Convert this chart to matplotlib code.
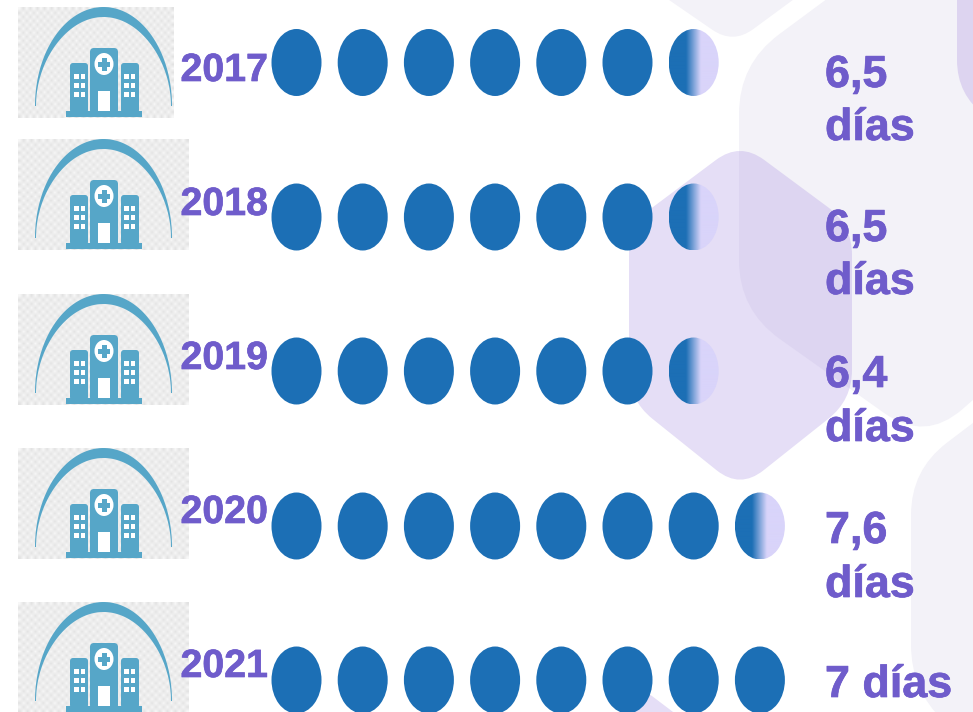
import math
import numpy as np
import matplotlib
matplotlib.use('Agg')
import matplotlib.pyplot as plt
import matplotlib.patheffects as pe
from matplotlib.patches import Ellipse, PathPatch, Rectangle, Polygon
from matplotlib.path import Path

years = ['2017', '2018', '2019', '2020', '2021']
stay_days = [6.5, 6.5, 6.4, 7.6, 7.0]
dot_counts = [7, 7, 7, 8, 8]
stay_labels = ['6,5\ndías', '6,5\ndías', '6,4\ndías', '7,6\ndías', '7 días']

DOT_BLUE = '#1C6FB5'
LAVENDER = '#D9D4FA'
TEXT_PURPLE = '#6F5CCB'
TEAL = '#56A6C8'
HEX_LIGHT = '#F3F2F8'

# pixel layout of the rows
row_y = [62.5, 217, 371, 526, 680]
year_base = [81, 215, 369, 523, 677]
value_base = [[87, 140], [241, 294], [387, 441], [543, 597], [697]]
icon_top = [7, 139, 294, 448, 602]
icon_right = [173, 188, 188, 188, 188]


def rounded_poly(verts, r):
    # polygon with quadratic corners cut back by r px
    codes = []
    pts = []
    n = len(verts)
    for i in range(n):
        p0 = np.array(verts[i - 1], float)
        p1 = np.array(verts[i], float)
        p2 = np.array(verts[(i + 1) % n], float)
        a = p1 + (p0 - p1) / np.linalg.norm(p0 - p1) * r
        b = p1 + (p2 - p1) / np.linalg.norm(p2 - p1) * r
        codes.append(Path.MOVETO if i == 0 else Path.LINETO)
        pts.append(a)
        codes += [Path.CURVE3, Path.CURVE3]
        pts += [p1, b]
    codes.append(Path.CLOSEPOLY)
    pts.append(pts[0])
    return Path(pts, codes)


def draw_background(ax):
    shapes = [
        ([(640, -20), (733, 44), (820, -20)], 25, HEX_LIGHT, 1),
        ([(739, 64), (920, -70), (1100, 64), (1030, 350), (925, 442), (739, 310)], 50, HEX_LIGHT, 1),
        ([(911, 470), (1040, 372), (1100, 800), (1000, 775), (911, 690)], 45, HEX_LIGHT, 1),
        ([(740, 142), (852, 225), (852, 400), (740, 489), (629, 400), (629, 225)], 30, (177/255, 156/255, 228/255), 1/3),
        ([(957, -50), (1100, -50), (1100, 200), (957, 95)], 35, '#DDD4F0', 1),
        ([(648, 693), (710, 740), (590, 740)], 5, '#E5DEF6', 1),
    ]
    for verts, r, col, alpha in shapes:
        ax.add_patch(PathPatch(rounded_poly(verts, r), fc=col, ec='none', alpha=alpha, zorder=1))


def box(x0, y0, w, h, r):
    return rounded_poly([(x0, y0), (x0 + w, y0), (x0 + w, y0 + h), (x0, y0 + h)], r)


def draw_icon(ax, top, right):
    left = 17.5
    cells = np.indices((28, 44)).sum(axis=0) % 2
    img = np.where(cells[..., None] == 1, [0.89, 0.89, 0.89], [0.97, 0.97, 0.97])
    ax.imshow(img, extent=(left, right, top + 111, top), interpolation='bilinear',
              aspect='auto', zorder=2)
    # crescent over the building
    t = np.linspace(math.pi, 2 * math.pi, 80)
    ox = 103.5 + 68.5 * np.cos(t)
    oy = top + 99 + 99 * np.sin(t)
    ix = 103.5 + 67.5 * np.cos(t[::-1]) * (0.955 + 0.045 * np.abs(np.cos(t[::-1])) ** 3)
    iy = top + 99 + 89 * np.sin(t[::-1])
    ax.add_patch(Polygon(np.column_stack([np.r_[ox, ix], np.r_[oy, iy]]), fc=TEAL, ec='none', zorder=3))
    # building
    y = top
    ax.add_patch(Rectangle((66, y + 104), 76, 6, fc=TEAL, ec='none', zorder=3))
    for x0, w, y0, h, r in [(90, 28, 41, 66, 4), (70, 18, 56, 50, 3), (121, 18, 56, 50, 3)]:
        ax.add_patch(PathPatch(box(x0, y + y0, w, h, r), fc=TEAL, ec='none', zorder=3))
    ax.add_patch(Ellipse((104, y + 57), 19, 22, fc='white', ec='none', zorder=4))
    ax.add_patch(Rectangle((101.5, y + 51), 5, 13, fc=TEAL, ec='none', zorder=5))
    ax.add_patch(Rectangle((98, y + 55), 12, 5, fc=TEAL, ec='none', zorder=5))
    ax.add_patch(Rectangle((98, y + 84), 12, 20, fc='white', ec='none', zorder=4))
    for wx in [74, 80.5, 124, 130.5]:
        for wy in [67, 75.5, 85]:
            ax.add_patch(Rectangle((wx, y + wy), 4.8, 5, fc='white', ec='none', zorder=4))


def draw_dot(ax, cx, cy, partial):
    w, h = 50, 67
    if not partial:
        ax.add_patch(Ellipse((cx, cy), w, h, fc=DOT_BLUE, ec='none', zorder=3))
        return
    # blue on the left fading to lavender on the right
    xs = np.linspace(0, 1, 200)
    ramp = np.clip((xs - 0.34) / 0.3, 0, 1)
    c0 = np.array(matplotlib.colors.to_rgb(DOT_BLUE))
    c1 = np.array(matplotlib.colors.to_rgb(LAVENDER))
    img = (c0[None, :] * (1 - ramp[:, None]) + c1[None, :] * ramp[:, None])[None, :, :]
    im = ax.imshow(img, extent=(cx - w / 2, cx + w / 2, cy + h / 2, cy - h / 2),
                   aspect='auto', zorder=3)
    clip = Ellipse((cx, cy), w, h, transform=ax.transData, fc='none', ec='none')
    ax.add_patch(clip)
    im.set_clip_path(clip)


fig = plt.figure(figsize=(9.73, 7.12), dpi=100)
ax = fig.add_axes([0, 0, 1, 1])
draw_background(ax)

font = {'family': ['Liberation Sans', 'DejaVu Sans'], 'weight': 'bold', 'color': TEXT_PURPLE}
# the reference text is a touch heavier than the plain bold
thick = [pe.withStroke(linewidth=0.5, foreground=TEXT_PURPLE)]
for i, year in enumerate(years):
    draw_icon(ax, icon_top[i], icon_right[i])
    ax.text(180.5, year_base[i], year, fontsize=28.3, va='baseline', ha='left', zorder=6,
            path_effects=thick, **font)
    for j in range(dot_counts[i]):
        draw_dot(ax, 296.5 + 66.2 * j, row_y[i], j == dot_counts[i] - 1 and stay_days[i] != int(stay_days[i]))
    for line, base in zip(stay_labels[i].split('\n'), value_base[i]):
        ax.text(825, base, line, fontsize=32.3, va='baseline', ha='left', zorder=6,
                path_effects=thick, **font)

ax.set_xlim(0, 973)
ax.set_ylim(712, 0)
ax.axis('off')
fig.savefig('out.png', dpi=100, facecolor='white')
